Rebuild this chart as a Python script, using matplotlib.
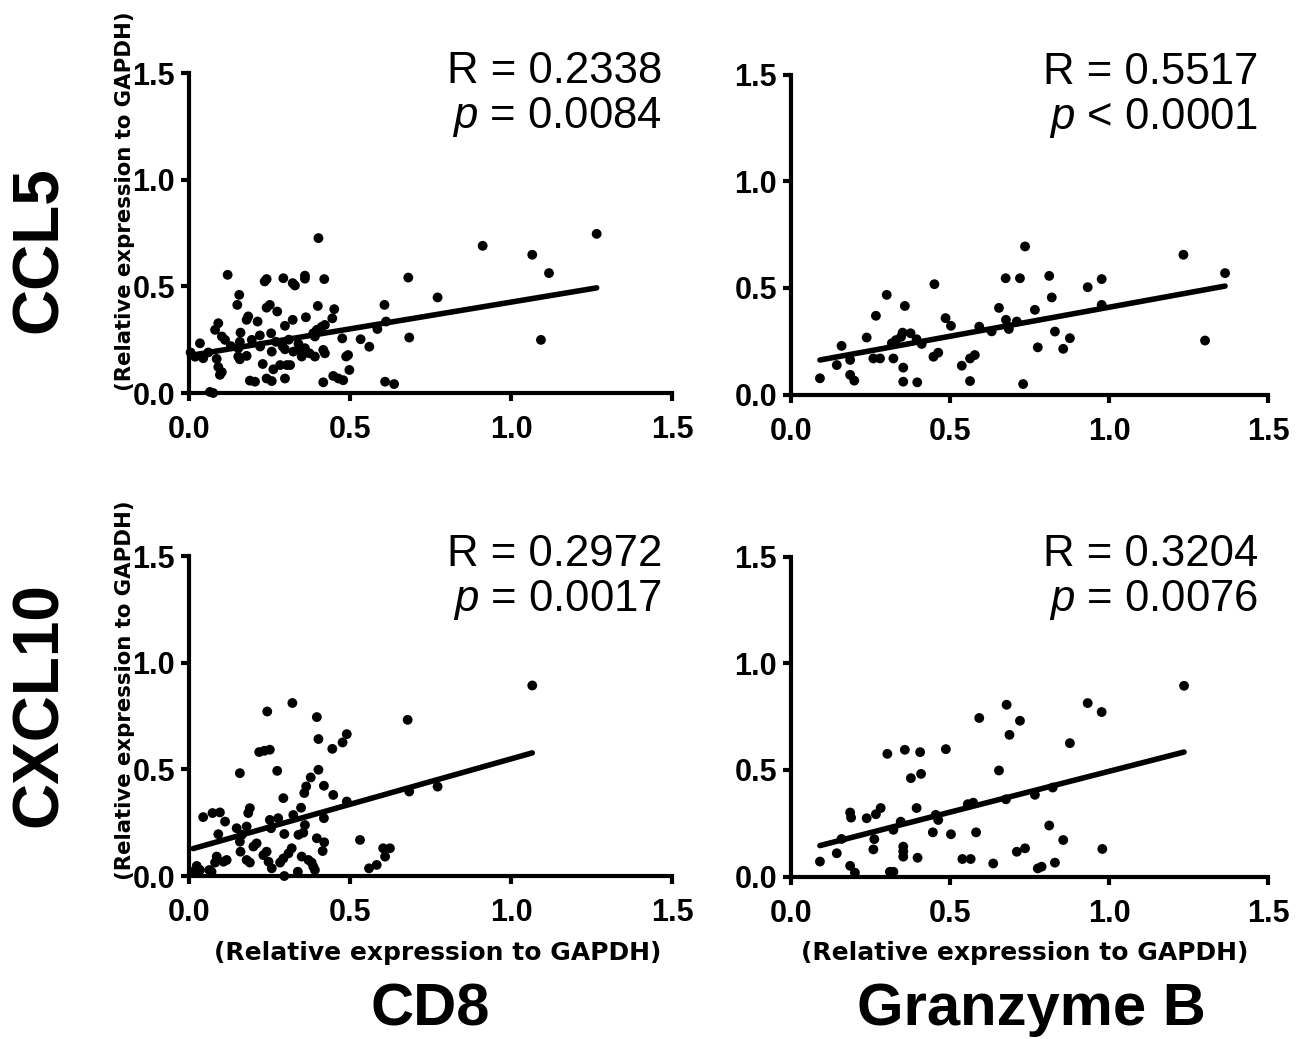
import matplotlib
matplotlib.use("Agg")
import matplotlib.pyplot as plt
import numpy as np
from matplotlib import font_manager

names = {f.name for f in font_manager.fontManager.ttflist}
NARROW = "Liberation Sans Narrow" if "Liberation Sans Narrow" in names else "Liberation Sans"
BASE = "Liberation Sans"

plt.rcParams["font.family"] = [BASE, "DejaVu Sans"]
plt.rcParams["mathtext.fontset"] = "custom"
plt.rcParams["mathtext.rm"] = NARROW
plt.rcParams["mathtext.it"] = NARROW + ":italic"

# ---------------- data ----------------
# Panel A: CD8 (x) vs CCL5 (y)
cd8_ccl5_x = [0.402, 0.120, 0.241, 0.235, 0.293, 0.322, 0.329, 0.360, 0.360, 0.420,
              0.681, 0.156, 0.150, 0.241, 0.251, 0.274, 0.400, 0.451, 0.445, 0.607,
              0.184, 0.179, 0.213, 0.322, 0.363, 0.298, 0.091, 0.081, 0.160, 0.255,
              0.102, 0.112, 0.397, 0.386, 0.412, 0.422, 0.391, 0.612, 0.585, 0.476,
              0.533, 0.560, 0.684, 0.034, 0.195, 0.221, 0.158, 0.153, 0.291, 0.298,
              0.257, 0.324, 0.345, 0.360, 0.350, 0.374, 0.391, 0.417, 0.422, 0.019,
              0.044, 0.153, 0.179, 0.158, 0.086, 0.091, 0.102, 0.096, 0.229, 0.262,
              0.283, 0.304, 0.314, 0.488, 0.494, 0.498, 0.189, 0.205, 0.241, 0.257,
              0.298, 0.417, 0.448, 0.464, 0.479, 0.609, 0.637, 0.065, 0.075, 0.912,
              1.066, 1.118, 1.266, 0.772, 1.093, 0.270, 0.310, 0.340, 0.220, 0.130,
              0.060, 0.005]
cd8_ccl5_y = [0.726, 0.554, 0.534, 0.523, 0.538, 0.515, 0.504, 0.550, 0.536, 0.534,
              0.541, 0.460, 0.413, 0.400, 0.413, 0.382, 0.408, 0.393, 0.350, 0.413,
              0.359, 0.343, 0.335, 0.343, 0.355, 0.315, 0.327, 0.296, 0.283, 0.280,
              0.265, 0.249, 0.296, 0.280, 0.310, 0.319, 0.265, 0.335, 0.300, 0.256,
              0.252, 0.217, 0.260, 0.233, 0.249, 0.218, 0.240, 0.210, 0.218, 0.205,
              0.194, 0.194, 0.202, 0.210, 0.171, 0.186, 0.171, 0.202, 0.186, 0.170,
              0.163, 0.171, 0.174, 0.158, 0.160, 0.122, 0.098, 0.085, 0.136, 0.111,
              0.131, 0.131, 0.131, 0.171, 0.178, 0.108, 0.058, 0.053, 0.068, 0.056,
              0.068, 0.050, 0.080, 0.068, 0.060, 0.053, 0.042, 0.005, 0.000, 0.690,
              0.648, 0.562, 0.746, 0.448, 0.249, 0.240, 0.250, 0.230, 0.270, 0.220,
              0.190, 0.190]

# Panel B: Granzyme B (x) vs CCL5 (y)
gzmb_ccl5_x = [0.736, 0.675, 0.720, 0.451, 0.301, 0.358, 0.267, 0.654, 0.486, 0.503,
               0.238, 0.351, 0.376, 0.676, 0.710, 0.685, 0.592, 0.631, 0.317, 0.330,
               0.346, 0.395, 0.411, 0.159, 0.186, 0.144, 0.259, 0.280, 0.322, 0.448,
               0.463, 0.563, 0.578, 0.537, 0.353, 0.186, 0.199, 0.091, 0.353, 0.397,
               0.563, 0.730, 0.812, 1.234, 1.365, 0.933, 0.977, 0.820, 0.977, 0.767,
               0.830, 0.877, 0.776, 0.856, 1.302]
gzmb_ccl5_y = [0.694, 0.545, 0.545, 0.517, 0.467, 0.415, 0.369, 0.406, 0.358, 0.322,
               0.267, 0.290, 0.287, 0.350, 0.342, 0.307, 0.318, 0.296, 0.240, 0.255,
               0.270, 0.259, 0.237, 0.228, 0.162, 0.138, 0.169, 0.169, 0.169, 0.177,
               0.196, 0.169, 0.185, 0.135, 0.126, 0.092, 0.065, 0.076, 0.060, 0.057,
               0.063, 0.049, 0.556, 0.655, 0.569, 0.503, 0.541, 0.455, 0.420, 0.397,
               0.295, 0.264, 0.221, 0.214, 0.253]

# Panel C: CD8 (x) vs CXCL10 (y)
cd8_cxcl10_x = [0.321, 0.243, 0.397, 0.679, 0.402, 0.490, 0.477, 0.445, 0.218, 0.234,
                0.251, 0.158, 0.274, 0.402, 0.378, 0.364, 0.358, 0.419, 0.448, 0.293,
                0.348, 0.490, 0.684, 0.189, 0.184, 0.044, 0.073, 0.096, 0.112, 0.251,
                0.277, 0.324, 0.360, 0.355, 0.419, 0.148, 0.179, 0.164, 0.158, 0.091,
                0.255, 0.296, 0.340, 0.397, 0.420, 0.415, 0.531, 0.210, 0.200, 0.160,
                0.241, 0.231, 0.247, 0.086, 0.081, 0.107, 0.117, 0.179, 0.189, 0.309,
                0.293, 0.283, 0.319, 0.350, 0.371, 0.381, 0.386, 0.391, 0.257, 0.024,
                0.034, 0.013, 0.063, 0.070, 0.338, 0.296, 0.559, 0.583, 0.609, 0.624,
                0.603, 1.066, 0.772]
cd8_cxcl10_y = [0.811, 0.771, 0.745, 0.732, 0.642, 0.665, 0.626, 0.596, 0.581, 0.587,
                0.592, 0.482, 0.493, 0.498, 0.462, 0.420, 0.389, 0.423, 0.380, 0.365,
                0.320, 0.349, 0.396, 0.318, 0.295, 0.276, 0.295, 0.298, 0.255, 0.263,
                0.271, 0.286, 0.239, 0.203, 0.271, 0.224, 0.232, 0.193, 0.161, 0.196,
                0.224, 0.197, 0.193, 0.177, 0.158, 0.117, 0.169, 0.153, 0.138, 0.114,
                0.114, 0.098, 0.067, 0.091, 0.063, 0.067, 0.075, 0.075, 0.063, 0.106,
                0.082, 0.063, 0.130, 0.091, 0.075, 0.063, 0.044, 0.028, 0.036, 0.047,
                0.028, 0.020, 0.028, 0.020, 0.020, 0.000, 0.036, 0.052, 0.091, 0.130,
                0.130, 0.893, 0.419]

# Panel D: Granzyme B (x) vs CXCL10 (y)
gzmb_cxcl10_x = [0.678, 0.592, 0.720, 0.687, 0.303, 0.358, 0.406, 0.487, 0.377, 0.409,
                 0.654, 0.186, 0.189, 0.238, 0.267, 0.282, 0.395, 0.455, 0.463, 0.345,
                 0.322, 0.556, 0.573, 0.676, 0.159, 0.262, 0.259, 0.446, 0.503, 0.582,
                 0.144, 0.353, 0.353, 0.353, 0.398, 0.091, 0.186, 0.201, 0.311, 0.322,
                 0.539, 0.565, 0.636, 0.710, 0.736, 0.933, 0.977, 1.236, 0.877, 0.767,
                 0.823, 0.812, 0.856, 0.979, 0.776, 0.788, 0.830]
gzmb_cxcl10_y = [0.805, 0.743, 0.730, 0.664, 0.575, 0.594, 0.583, 0.597, 0.461, 0.481,
                 0.497, 0.300, 0.276, 0.273, 0.292, 0.321, 0.321, 0.289, 0.265, 0.257,
                 0.219, 0.339, 0.346, 0.362, 0.176, 0.175, 0.127, 0.207, 0.198, 0.207,
                 0.109, 0.140, 0.117, 0.093, 0.088, 0.070, 0.050, 0.018, 0.022, 0.022,
                 0.082, 0.082, 0.061, 0.116, 0.132, 0.813, 0.771, 0.894, 0.625, 0.383,
                 0.417, 0.239, 0.171, 0.129, 0.038, 0.046, 0.065]

# regression line parameters
fit_intercepts = [0.175, 0.137, 0.123, 0.110]
fit_slopes = [0.251, 0.272, 0.426, 0.383]

r_values = ["0.2338", "0.5517", "0.2972", "0.3204"]
p_values = ["= 0.0084", "< 0.0001", "= 0.0017", "= 0.0076"]

tick_values = [0.0, 0.5, 1.0, 1.5]
tick_labels = ["0.0", "0.5", "1.0", "1.5"]

row_labels = ["CCL5", "CXCL10"]
col_labels = ["CD8", "Granzyme B"]
unit_label = "(Relative expression to GAPDH)"

# ---------------- figure ----------------
W, H = 1302, 1039
fig = plt.figure(figsize=(W / 100, H / 100), dpi=100)


def fx(px):
    return px / W


def fy(py):
    return 1 - py / H


# axes boxes in pixels: (left, bottom, right, top)
boxes = [(189, 393, 672, 73), (791, 394.5, 1268, 74.5),
         (189, 876, 672, 556), (791, 876.5, 1268, 556.5)]
datasets = [(cd8_ccl5_x, cd8_ccl5_y), (gzmb_ccl5_x, gzmb_ccl5_y),
            (cd8_cxcl10_x, cd8_cxcl10_y), (gzmb_cxcl10_x, gzmb_cxcl10_y)]

for i, ((l, b, r, t), (xs, ys)) in enumerate(zip(boxes, datasets)):
    ax = fig.add_axes([fx(l), fy(b), (r - l) / W, (b - t) / H])
    ax.set_xlim(0, 1.5)
    ax.set_ylim(0, 1.5)
    for s in ["top", "right"]:
        ax.spines[s].set_visible(False)
    for s in ["left", "bottom"]:
        ax.spines[s].set_linewidth(3.0)
        ax.spines[s].set_bounds(0, 1.5)
        ax.spines[s].set_capstyle("projecting")
    ax.set_xticks(tick_values)
    ax.set_yticks(tick_values)
    ax.set_xticklabels(tick_labels, fontsize=22, fontweight="bold", family=BASE)
    ax.set_yticklabels(tick_labels, fontsize=22, fontweight="bold", family=BASE)
    ax.tick_params(axis="both", direction="out", length=6, width=3.0)
    ax.tick_params(axis="x", pad=10)
    ax.tick_params(axis="y", pad=4)

    ax.scatter(xs, ys, s=50, color="black", edgecolors="none", zorder=3, clip_on=False)
    xx = np.array([min(xs), max(xs)])
    ax.plot(xx, fit_intercepts[i] + fit_slopes[i] * xx, color="black", lw=4.0,
            solid_capstyle="round", zorder=4)

    # statistics text
    tx = r - 10
    ty1 = t + 10
    fig.text(fx(tx), fy(ty1), "R = " + r_values[i], ha="right", va="baseline",
             fontsize=31.5, family=NARROW)
    fig.text(fx(tx), fy(ty1 + 45), r"$p$ " + p_values[i], ha="right", va="baseline",
             fontsize=31.5, family=NARROW)

# small axis unit labels
XUNIT_FONT = dict(fontsize=18, fontweight="bold", family=["DejaVu Sans"])
YUNIT_FONT = dict(fontsize=15.3, fontweight="bold", family=["DejaVu Sans"])
fig.text(fx(125), fy(201), unit_label, rotation=90, ha="center", va="center", **YUNIT_FONT)
fig.text(fx(125), fy(690), unit_label, rotation=90, ha="center", va="center", **YUNIT_FONT)
fig.text(fx(438), fy(953), unit_label, ha="center", va="center", **XUNIT_FONT)
fig.text(fx(1025), fy(953), unit_label, ha="center", va="center", **XUNIT_FONT)

# big labels
fig.text(fx(40), fy(250), row_labels[0], rotation=90, ha="center", va="center",
         fontsize=46, fontweight="bold")
fig.text(fx(40), fy(705), row_labels[1], rotation=90, ha="center", va="center",
         fontsize=46, fontweight="bold")
fig.text(fx(430), fy(1025), col_labels[0], ha="center", va="baseline",
         fontsize=43, fontweight="bold")
fig.text(fx(1031), fy(1025), col_labels[1], ha="center", va="baseline",
         fontsize=43, fontweight="bold")

fig.savefig("out.png", dpi=100, facecolor="white")
